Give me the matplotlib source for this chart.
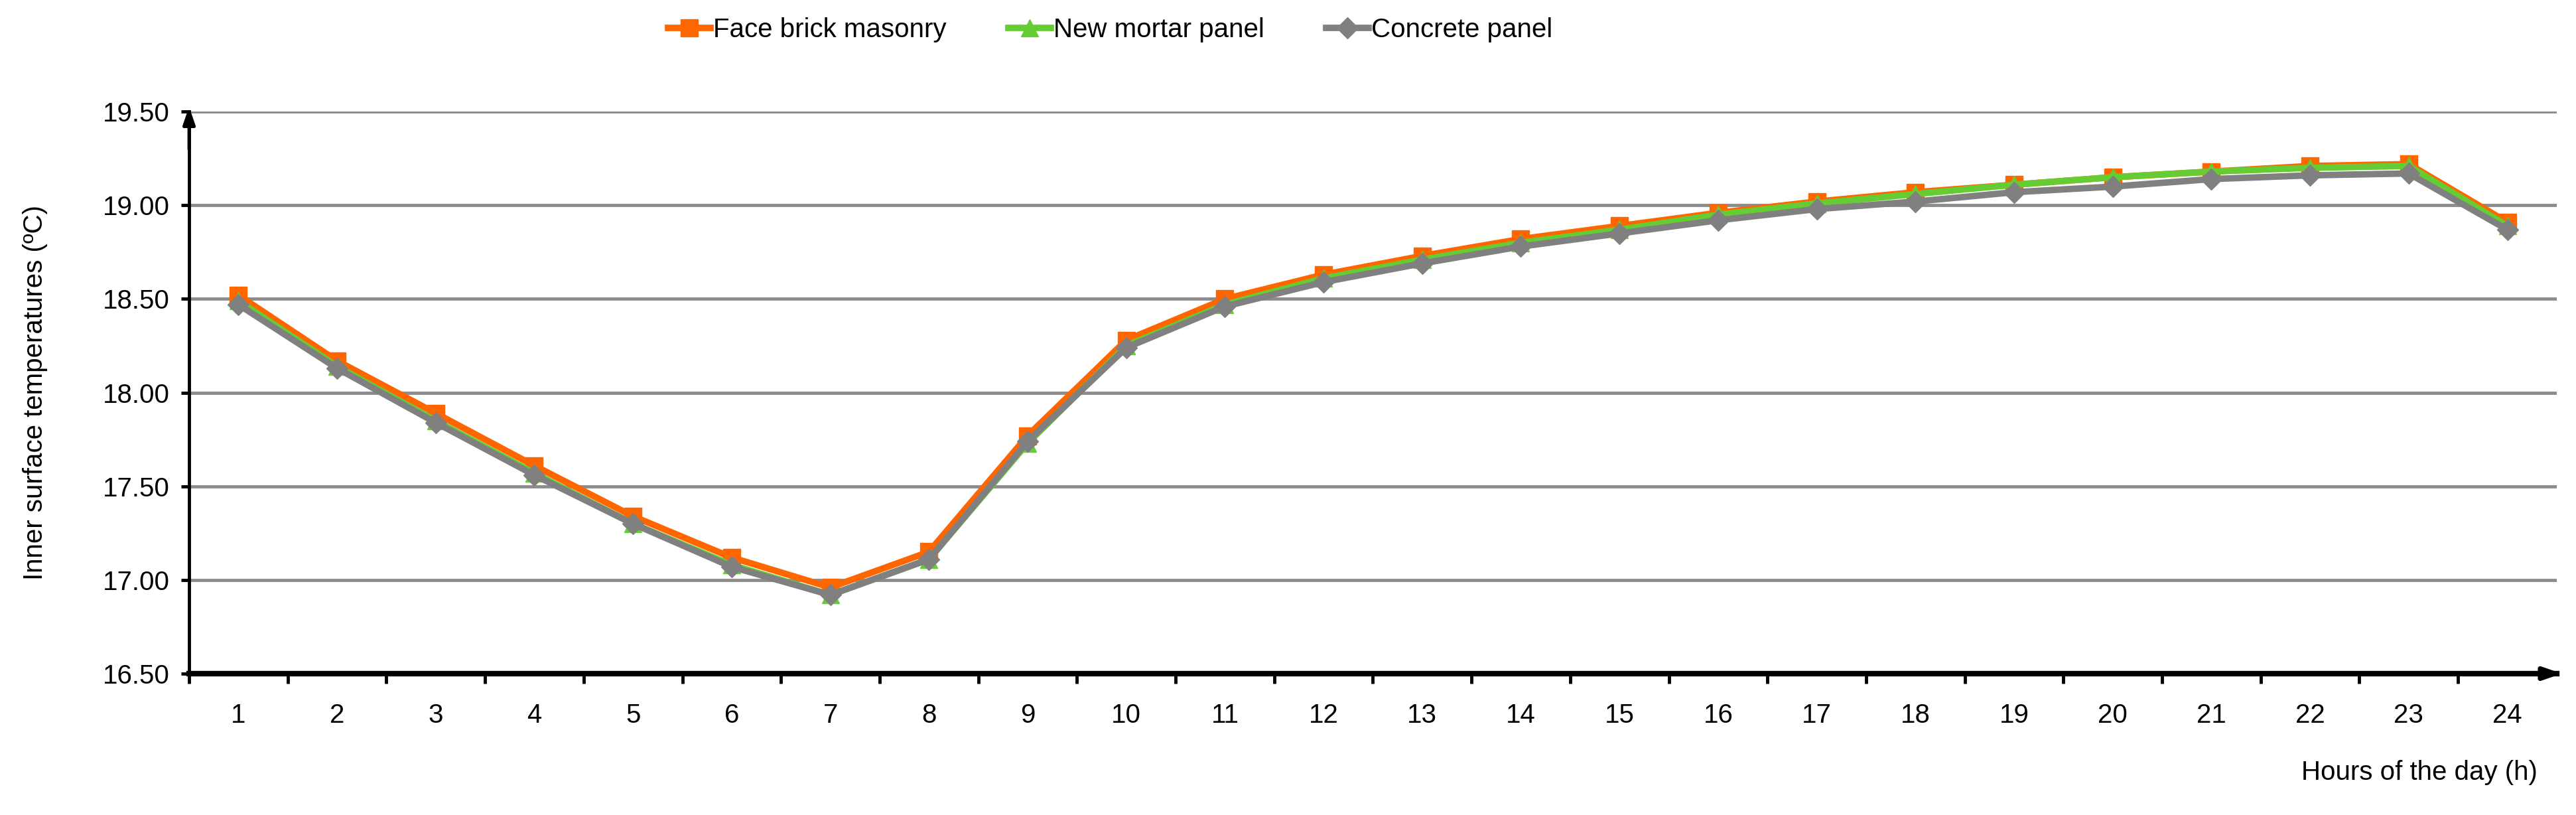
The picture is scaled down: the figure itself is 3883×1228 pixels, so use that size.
import numpy as np
import matplotlib
matplotlib.use("Agg")
from matplotlib import pyplot as plt

plt.rcParams['font.family'] = ['Liberation Sans', 'DejaVu Sans']

hours = list(range(1, 25))
face_brick = [18.52, 18.17, 17.89, 17.61, 17.34, 17.12, 16.96, 17.15, 17.77, 18.28, 18.50, 18.63,
              18.73, 18.82, 18.89, 18.96, 19.02, 19.07, 19.11, 19.15, 19.18, 19.21, 19.22, 18.91]
new_mortar = [18.49, 18.14, 17.85, 17.57, 17.30, 17.08, 16.92, 17.11, 17.73, 18.25, 18.47, 18.61,
              18.71, 18.80, 18.87, 18.95, 19.01, 19.06, 19.11, 19.15, 19.18, 19.20, 19.21, 18.89]
concrete = [18.47, 18.13, 17.84, 17.56, 17.30, 17.07, 16.92, 17.11, 17.74, 18.24, 18.46, 18.59,
            18.69, 18.78, 18.85, 18.92, 18.98, 19.02, 19.07, 19.10, 19.14, 19.16, 19.17, 18.87]
y_ticks = [16.50, 17.00, 17.50, 18.00, 18.50, 19.00, 19.50]

FS = 29

fig = plt.figure(figsize=(38.83, 12.28), dpi=100)
ax = fig.add_axes([0.0734, 0.1735, 0.9191, 0.6895])

# gridlines
for y in y_ticks[1:]:
    ax.axhline(y, color='#8c8c8c', linewidth=3.5, zorder=1)

ax.plot(hours, face_brick, color='#ff6600', linewidth=7, marker='s', markersize=19,
        label='Face brick masonry', zorder=3)
ax.plot(hours, new_mortar, color='#66cc33', linewidth=7, marker='^', markersize=19,
        label='New mortar panel', zorder=4)
ax.plot(hours, concrete, color='#808080', linewidth=7, marker='D', markersize=16,
        label='Concrete panel', zorder=5)

ax.set_xlim(0.5, 24.5)
ax.set_ylim(16.5, 19.5)

# x ticks at category borders, labels at centres
ax.set_xticks(np.arange(0.5, 24.5, 1))
ax.set_xticklabels([])
ax.set_xticks(hours, minor=True)
ax.set_xticklabels([str(h) for h in hours], minor=True)
ax.tick_params(axis='x', which='major', direction='out', length=11, width=3.5, color='black')
ax.tick_params(axis='x', which='minor', length=0, pad=32, labelsize=FS)

ax.set_yticks(y_ticks)
ax.set_yticklabels(['%.2f' % v for v in y_ticks])
ax.tick_params(axis='y', direction='out', length=9, width=3.5, labelsize=FS, pad=12)

for s in ['top', 'right']:
    ax.spines[s].set_visible(False)
ax.spines['left'].set_linewidth(3.5)
ax.spines['bottom'].set_linewidth(6)
ax.spines['bottom'].set_zorder(6)

# arrow heads on the axes
ax.annotate('', xy=(0, 1.012), xytext=(0, 0.93), xycoords='axes fraction',
            arrowprops=dict(arrowstyle='-|>,head_length=1.6,head_width=0.55', color='black', lw=3.5))
ax.annotate('', xy=(1.003, 0), xytext=(0.99, 0), xycoords='axes fraction',
            arrowprops=dict(arrowstyle='-|>,head_length=1.6,head_width=0.55', color='black', lw=5))

ax.set_ylabel('Inner surface temperatures (ºC)', fontsize=FS, labelpad=60)
fig.text(0.985, 0.052, 'Hours of the day (h)', fontsize=FS, ha='right', va='center')

ax.legend(loc='center', bbox_to_anchor=(0.431, 0.963), bbox_transform=fig.transFigure, ncol=3,
          frameon=False, fontsize=FS, handlelength=1.6, handletextpad=0.1, columnspacing=2.3)

fig.savefig('out.png', dpi=100)
